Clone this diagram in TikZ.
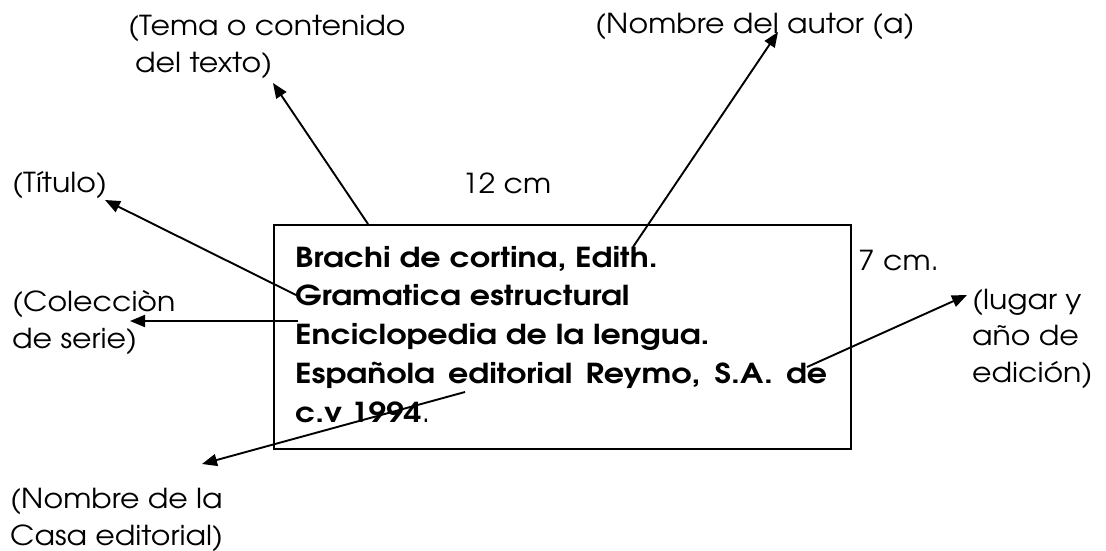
\documentclass[tikz,border=0pt]{standalone}
\usepackage{fontspec}
\setmainfont{TeX Gyre Adventor}
\newfontfamily\lblfont{TeX Gyre Adventor}[FakeStretch=1.09]
\newfontfamily\entryfont{TeX Gyre Adventor}[FakeStretch=1.15]
\usetikzlibrary{arrows.meta}
\begin{document}
\begin{tikzpicture}[x=1pt,y=-1pt,
  lbl/.style={anchor=base west,inner sep=0pt,align=left,font=\lblfont\fontsize{27.5}{36.5}\selectfont},
  boxtext/.style={anchor=base west,inner sep=0pt,align=left,font=\entryfont\fontsize{27.5}{38.7}\selectfont\bfseries},
  card/.style={draw,line width=1.8pt,anchor=north west,inner sep=0pt,minimum width=577pt,minimum height=224pt},
  ptr/.style={line width=1.9pt,-{Triangle[length=15pt,width=12pt]}}]
\useasboundingbox (0,0) rectangle (1106,550);
\node[card] (card) at (273,224) {};
\node[boxtext] (entry) at (295,422) {Brachi de cortina, Edith.\\
Gramatica estructural\\
Enciclopedia de la lengua.\\
\makebox[532pt][s]{Española editorial Reymo, S.A. de}\\
c.v 1994\textmd{.}};
\node[lbl] (tema) at (128,72) {(Tema o contenido\\\hspace{7pt}del texto)};
\node[lbl] (autor) at (595,33) {(Nombre del autor (a)};
\node[lbl] (titulo) at (12,192) {(Título)};
\node[lbl] (ancho) at (462,193) {12 cm};
\node[lbl] (alto) at (858,270) {7 cm.};
\node[lbl] (coleccion) at (12,348) {(Colecciòn\\de serie)};
\node[lbl] (lugar) at (972,382) {(lugar y\\año de\\edición)};
\node[lbl] (casa) at (10,545) {(Nombre de la\\Casa editorial)};
\coordinate (sTema) at (368,224);
\coordinate (tTema) at (273,83);
\coordinate (sAutor) at (633,247);
\coordinate (tAutor) at (778,32);
\coordinate (sTitulo) at (296,295);
\coordinate (tTitulo) at (105,200);
\coordinate (sCol) at (298,321);
\coordinate (tCol) at (130,321);
\coordinate (sCasa) at (465,392);
\coordinate (tCasa) at (202,464);
\coordinate (sLugar) at (807,367);
\coordinate (tLugar) at (967,295);
\draw[ptr] (sTema) -- (tTema);
\draw[ptr] (sAutor) -- (tAutor);
\draw[ptr] (sTitulo) -- (tTitulo);
\draw[ptr] (sCol) -- (tCol);
\draw[ptr] (sCasa) -- (tCasa);
\draw[ptr] (sLugar) -- (tLugar);
\end{tikzpicture}
\end{document}
